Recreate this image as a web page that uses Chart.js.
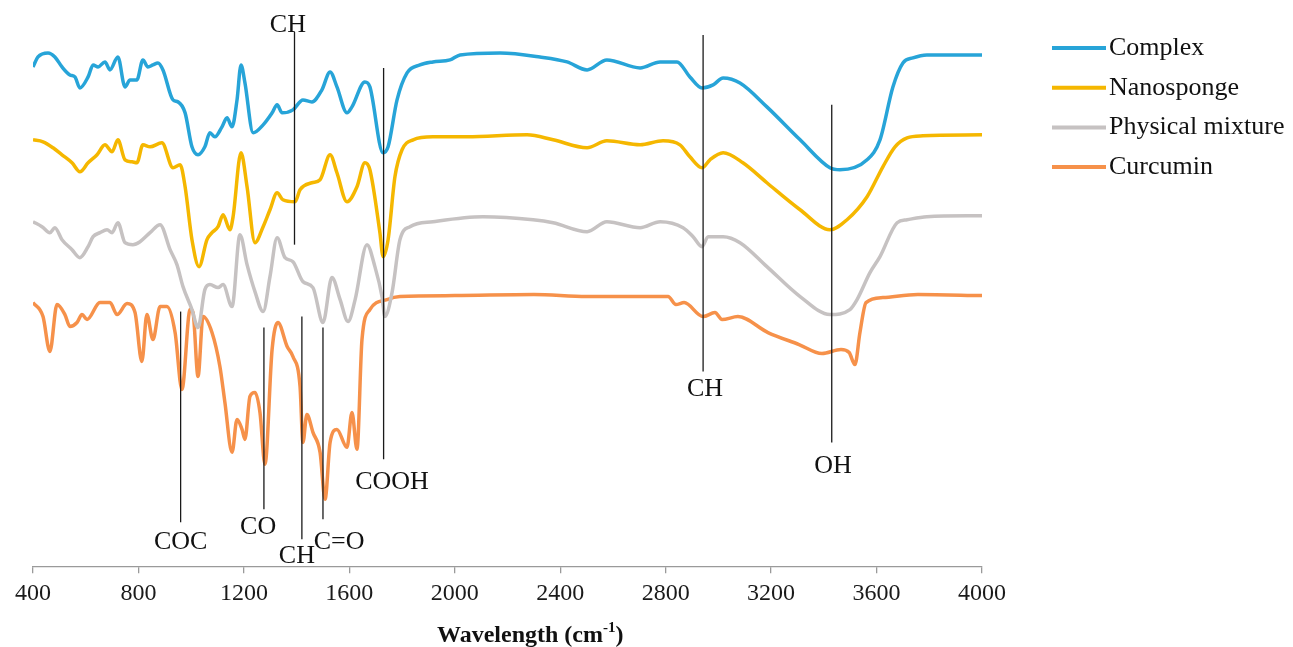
<!DOCTYPE html>
<html>
<head>
<meta charset="utf-8">
<script src="https://cdn.jsdelivr.net/npm/chart.js@4.4.1/dist/chart.umd.min.js"></script>
<style>
  html, body { margin: 0; padding: 0; background: #fff; }
  #wrap { width: 1293px; height: 647px; position: relative; }
</style>
</head>
<body>
<div id="wrap"><canvas id="ftir"></canvas></div>
<script>
// FTIR spectra, offset traces (wavenumber cm-1 / relative transmittance)
const seriesNames = ['Complex', 'Nanosponge', 'Physical mixture', 'Curcumin'];
const seriesColors = ['#27A4D8', '#F5B700', '#C6C2C2', '#F6914A'];

const complexWn = [400,419,457,483,510,540,559,578,609,628,647,673,692,722,749,768,794,817,836,855,874,893,931,950,977,1003,1026,1052,1071,1090,1117,1136,1155,1174,1189,1204,1235,1273,1307,1326,1345,1386,1424,1458,1496,1527,1553,1591,1610,1659,1678,1728,1747,1781,1819,1868,1917,1982,2020,2172,2323,2426,2502,2577,2703,2779,2843,2892,2938,2980,3018,3082,3184,3310,3423,3461,3564,3613,3662,3700,3738,3791,4000];
const complexT = [100,102,102.8,102,100,98.4,98,95.8,98,100.4,100,101,99.4,102,96,97.4,97.4,101.4,100,100.4,100.8,99.4,93.4,93,90.8,84,82.4,84,86.8,86,88,89.8,88,93.4,100.4,96.8,86.8,88.4,90.8,92.4,90.8,91.4,93.4,93,95.4,99,96,90.8,92,97,96,82.8,84,93.4,98.8,100.4,101,101.4,102.4,102.8,102,101,99.4,101.4,99.8,101,101,98,95.8,96.4,97.8,96.8,92,85.4,79.8,79.4,81.4,85.4,96,100.8,101.8,102.4,102.4];

const nanoWn = [400,438,476,510,548,578,609,643,673,700,722,749,776,794,817,844,889,931,958,977,1003,1030,1060,1079,1102,1121,1147,1159,1189,1212,1242,1273,1299,1326,1348,1394,1413,1458,1489,1527,1553,1591,1629,1659,1678,1716,1728,1747,1773,1800,1842,1917,2046,2274,2373,2502,2577,2703,2790,2854,2892,2938,2968,3018,3093,3184,3310,3423,3488,3564,3624,3670,3716,3776,4000];
const nanoT = [85.4,85,83.8,82.4,80.8,79,80.8,82.4,84.4,83,85.4,81.4,81,80.8,84.4,84,84.8,79.8,80.4,76,65.4,60,65.4,66.8,68,70.4,67.4,70,82.8,76,64.8,68,71.4,74.8,73.4,73,75.4,76.8,77.4,82.4,78.8,73,76,80.8,79.4,66.8,62,65.4,78,83.4,85.4,86,86,86.4,85.4,83.8,85.2,84.4,85.2,84.4,82,79.8,81.4,82.8,80.8,76.8,71.4,67.4,69.4,74,80,84,85.8,86.2,86.4];

const mixWn = [400,434,464,483,510,548,578,609,628,654,681,700,722,749,779,806,844,882,920,946,969,1003,1026,1052,1071,1102,1121,1155,1185,1212,1242,1273,1299,1326,1356,1386,1424,1462,1500,1534,1565,1595,1622,1667,1697,1724,1735,1762,1792,1830,1917,2107,2297,2373,2502,2577,2703,2779,2866,2904,2938,2961,3018,3082,3184,3310,3423,3499,3526,3575,3613,3678,3716,3791,4000];
const mixT = [69,68,66.8,67.8,65.4,63.4,61.8,64,66,66.8,67.4,66.8,68.8,64.8,64.4,65,66.8,68.4,63.4,60.4,56,51.4,47.8,55.4,56.4,55.8,56.4,52,66.4,60.4,55,51,58,65.8,61.8,61,57,55.8,48.8,57.8,53.4,49,53.4,64.4,60,54,50,54.8,65.4,68,69,70,69.4,68.8,67,69,67.8,69,67.8,66,64,66,66,64.8,60,54,50.4,51.4,53.4,58.8,62,68.8,69.4,70,70.2];

const curWn = [400,438,464,491,521,540,567,586,605,654,692,719,757,787,813,832,855,882,908,939,965,996,1007,1026,1045,1079,1109,1128,1155,1174,1193,1204,1223,1242,1261,1280,1307,1329,1364,1386,1413,1424,1439,1462,1489,1508,1527,1553,1591,1610,1629,1648,1678,1743,1792,2000,2300,2500,2809,2839,2870,2942,2987,3014,3074,3188,3306,3393,3465,3496,3518,3537,3560,3624,3757,4000];
const curT = [52.8,50,43,52.4,50.4,48,48.8,50.4,49.4,52.8,52.8,50.4,52.6,50.8,41,50.4,45.4,52,52,46.8,35.4,51.4,50.8,38,50,46.8,40,32.8,22.8,29.4,27.4,25.4,34,34.8,30.8,20.4,43.4,48.8,44,42,36,24.8,30.4,26.8,22.8,13.4,24.8,27.4,23.8,30.8,23.4,45.4,51.4,53.4,54,54.2,54.4,54,54,52.4,52.8,50,50.8,49.4,50,46.8,44.4,42.6,43.4,42.8,40.4,46.8,52.8,53.8,54.4,54.2];

const xTicks = [400, 800, 1200, 1600, 2000, 2400, 2800, 3200, 3600, 4000];

// peak assignment markers
const peakLabels = ['COC', 'CO', 'CH', 'C=O', 'COOH', 'CH', 'CH', 'OH'];
const peakWn = [960, 1276, 1420, 1500, 1730, 1392, 2942, 3430];
const peakTop = [51, 47.8, 50, 47.8, 99.8, 107, 106.4, 92.4];
const peakBottom = [8.8, 11.4, 5.4, 9.4, 21.4, 64.4, 39, 24.8];
const labelWn = [960, 1254, 1401, 1561, 1762, 1367, 2949, 3435];
const labelT = [4.8, 7.8, 2, 4.8, 16.8, 108.4, 35.4, 20];

const serif = '"Liberation Serif", "Times New Roman", serif';

function toPoints(xs, ys) {
  const n = Math.min(xs.length, ys.length);
  const pts = [];
  for (let i = 0; i < n; i++) pts.push({ x: xs[i], y: ys[i] });
  return pts;
}

const spectra = [
  toPoints(complexWn, complexT),
  toPoints(nanoWn, nanoT),
  toPoints(mixWn, mixT),
  toPoints(curWn, curT)
];

const peakMarks = {
  id: 'peakMarks',
  afterDatasetsDraw(chart) {
    const { ctx, scales: { x, y } } = chart;
    ctx.save();
    ctx.strokeStyle = '#1a1a1a';
    ctx.lineWidth = 1.3;
    ctx.fillStyle = '#111';
    ctx.font = '26px ' + serif;
    ctx.textAlign = 'center';
    ctx.textBaseline = 'middle';
    peakLabels.forEach(function (label, i) {
      const px = x.getPixelForValue(peakWn[i]);
      ctx.beginPath();
      ctx.moveTo(px, y.getPixelForValue(peakTop[i]));
      ctx.lineTo(px, y.getPixelForValue(peakBottom[i]));
      ctx.stroke();
      ctx.fillText(label, x.getPixelForValue(labelWn[i]), y.getPixelForValue(labelT[i]));
    });
    ctx.restore();
  }
};

// legend on the right, drawn as short lines
const sideLegend = {
  id: 'sideLegend',
  afterDraw(chart) {
    const ctx = chart.ctx;
    const left = chart.chartArea.right + 70;
    ctx.save();
    ctx.font = '26px ' + serif;
    ctx.textAlign = 'left';
    ctx.textBaseline = 'middle';
    chart.data.datasets.forEach(function (ds, i) {
      const yy = 48 + i * 39.7;
      ctx.strokeStyle = ds.borderColor;
      ctx.lineWidth = 4;
      ctx.beginPath();
      ctx.moveTo(left, yy);
      ctx.lineTo(left + 54, yy);
      ctx.stroke();
      ctx.fillStyle = '#111';
      ctx.fillText(ds.label, left + 57, yy);
    });
    ctx.restore();
  }
};

const axisTitle = {
  id: 'axisTitle',
  afterDraw(chart) {
    const ctx = chart.ctx;
    let xx = chart.chartArea.left + 404;
    const yy = chart.height - 11;
    ctx.save();
    ctx.fillStyle = '#111';
    ctx.textAlign = 'left';
    ctx.textBaseline = 'middle';
    ctx.font = 'bold 24px ' + serif;
    ctx.fillText('Wavelength (cm', xx, yy);
    xx += ctx.measureText('Wavelength (cm').width;
    ctx.font = 'bold 15px ' + serif;
    ctx.fillText('-1', xx, yy - 8);
    xx += ctx.measureText('-1').width;
    ctx.font = 'bold 24px ' + serif;
    ctx.fillText(')', xx, yy);
    ctx.restore();
  }
};

new Chart(document.getElementById('ftir'), {
  type: 'line',
  data: {
    datasets: seriesNames.map(function (name, i) {
      return {
        label: name,
        data: spectra[i],
        borderColor: seriesColors[i],
        backgroundColor: seriesColors[i],
        borderWidth: 3.5,
        pointRadius: 0,
        cubicInterpolationMode: 'monotone',
        fill: false
      };
    })
  },
  options: {
    responsive: true,
    maintainAspectRatio: false,
    animation: false,
    parsing: false,
    layout: { padding: { left: 33, right: 311, top: 17, bottom: 33 } },
    scales: {
      x: {
        type: 'linear',
        min: 400,
        max: 4000,
        afterBuildTicks(scale) {
          scale.ticks = xTicks.map(function (v) { return { value: v }; });
        },
        ticks: {
          color: '#1a1a1a',
          font: { family: serif, size: 24 },
          padding: 6,
          maxRotation: 0,
          autoSkip: false,
          callback: function (v) { return String(v); }
        },
        grid: { display: true, drawOnChartArea: false, drawTicks: true, tickLength: 7, color: '#9a9a9a', lineWidth: 1.3 },
        border: { display: true, color: '#9a9a9a', width: 1.3 }
      },
      y: {
        display: false,
        min: 0,
        max: 110
      }
    },
    plugins: {
      legend: { display: false },
      tooltip: { enabled: false }
    }
  },
  plugins: [peakMarks, sideLegend, axisTitle]
});
</script>
</body>
</html>
